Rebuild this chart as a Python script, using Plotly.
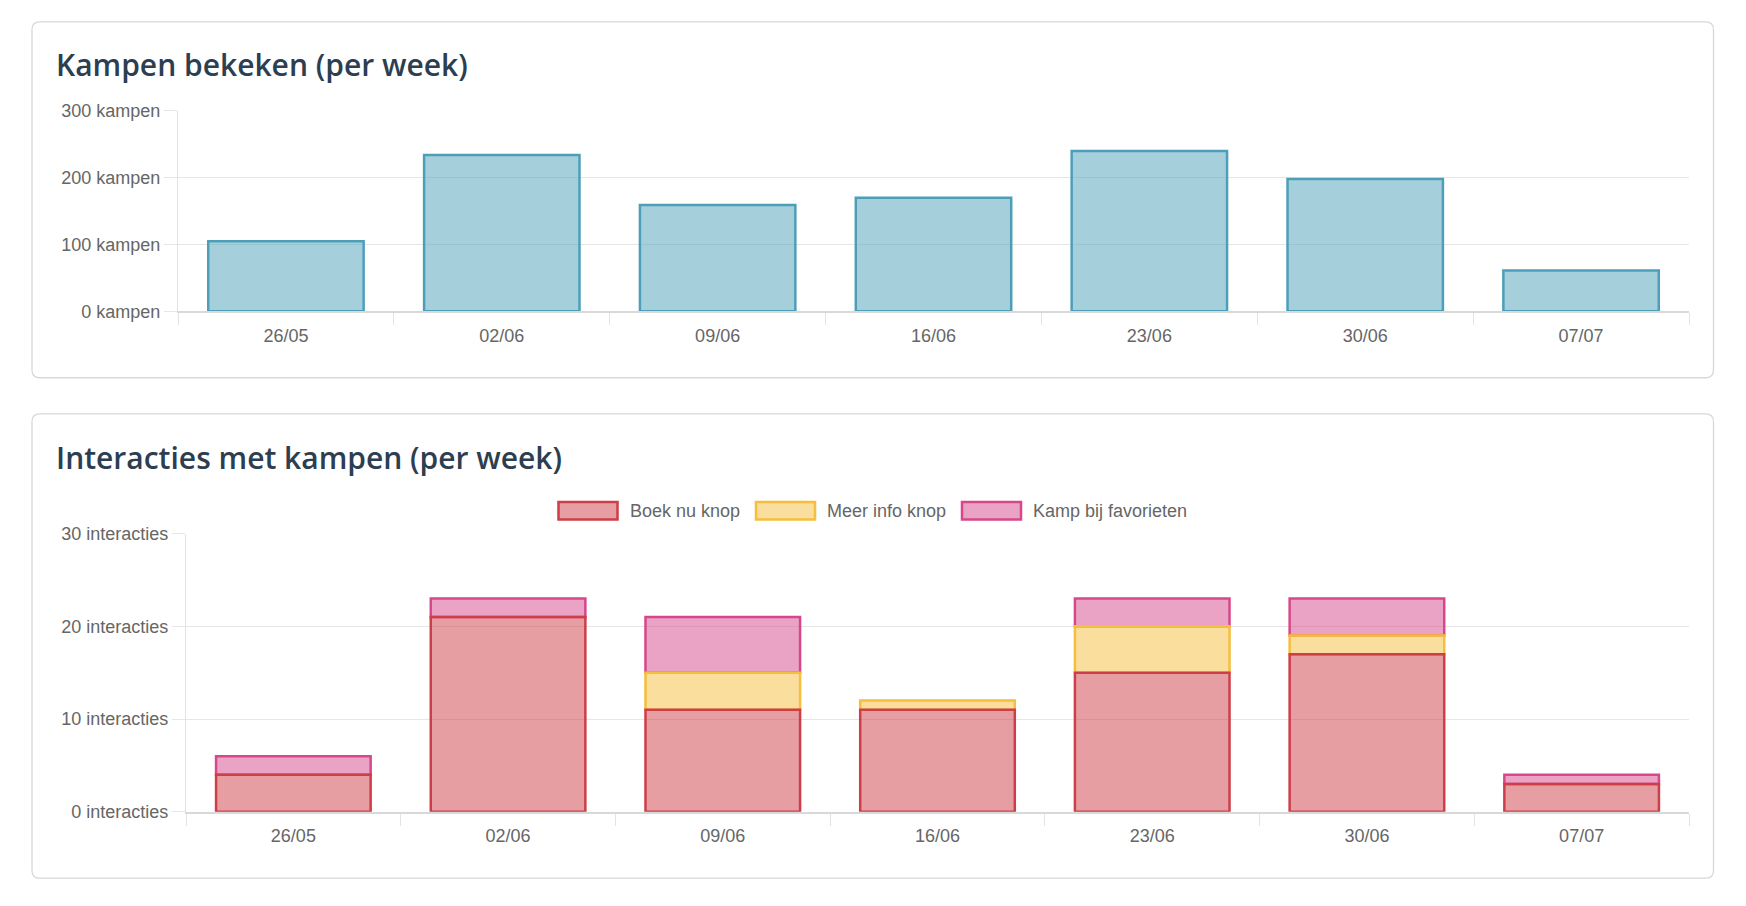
import numpy as np
import plotly.graph_objects as go

# ---------------- data ----------------
weeks = ["26/05", "02/06", "09/06", "16/06", "23/06", "30/06", "07/07"]
kampen_bekeken = [105, 234, 159, 170, 240, 198, 61]
boek_nu_knop = [4, 21, 11, 11, 15, 17, 3]
meer_info_knop = [0, 0, 4, 1, 5, 2, 0]
kamp_bij_favorieten = [2, 2, 6, 0, 3, 4, 1]
y1_tickvals = [0, 100, 200, 300]
y2_tickvals = [0, 10, 20, 30]
y1_suffix = " kampen"
y2_suffix = " interacties"
title1 = "Kampen bekeken (per week)"
title2 = "Interacties met kampen (per week)"
legend_names = ["Boek nu knop", "Meer info knop", "Kamp bij favorieten"]

# ---------------- geometry (page pixels; body keeps its default 8px margin) ----------------
PAGE_W, PAGE_H, M = 1746, 906, 8
W, H = PAGE_W - 2 * M, PAGE_H - 2 * M

def fx(x):
    return (x - M) / W

def fy(y):
    return 1 - (y - M) / H

BLUE = (77, 159, 185)
RED = (205, 62, 72)
YELLOW = (245, 190, 60)
PINK = (214, 72, 138)

def rgba(c, a):
    return "rgba(%d,%d,%d,%s)" % (c[0], c[1], c[2], a)

TICK_FONT = dict(family="Liberation Sans, Arial, sans-serif", size=18, color="#666666")
TITLE_FONT = dict(family="Open Sans, sans-serif", size=30, color="#2c3e50", weight=600)
GRID = "#e6e6e6"
AXIS = "#d9d9d9"

fig = go.Figure()

# chart 1
fig.add_trace(go.Bar(
    x=weeks, y=kampen_bekeken, xaxis="x", yaxis="y",
    marker=dict(color=rgba(BLUE, 0.5), line=dict(color=rgba(BLUE, 1), width=2.5)),
    showlegend=False, hoverinfo="x+y",
))

# chart 2 (stacked via cumulative bases; top series drawn first so lower borders stay visible)
b = np.array(boek_nu_knop, dtype=float)
m = np.array(meer_info_knop, dtype=float)
f = np.array(kamp_bij_favorieten, dtype=float)

def nz(arr):
    return [v if v else None for v in arr]

series = [
    (legend_names[2], f, b + m, PINK),
    (legend_names[1], m, b, YELLOW),
    (legend_names[0], b, np.zeros_like(b), RED),
]
for name, vals, base, col in series:
    fig.add_trace(go.Bar(
        x=weeks, y=nz(vals), base=list(base), name=name, xaxis="x2", yaxis="y2",
        marker=dict(color=rgba(col, 0.5), line=dict(color=rgba(col, 1), width=2.5)),
        showlegend=False, hoverinfo="x+y+name",
    ))

# ---------------- cards ----------------
def card(x0, y0, x1, y1, r=8):
    rx, ry = r / W, r / H
    X0, X1 = fx(x0), fx(x1)
    Y0, Y1 = fy(y0), fy(y1)  # Y0 top, Y1 bottom
    p = (f"M {X0+rx},{Y0} L {X1-rx},{Y0} Q {X1},{Y0} {X1},{Y0-ry} "
         f"L {X1},{Y1+ry} Q {X1},{Y1} {X1-rx},{Y1} L {X0+rx},{Y1} "
         f"Q {X0},{Y1} {X0},{Y1+ry} L {X0},{Y0-ry} Q {X0},{Y0} {X0+rx},{Y0} Z")
    return dict(type="path", xref="paper", yref="paper", path=p,
                line=dict(color="#d8d8d8", width=1.3), fillcolor="rgba(0,0,0,0)", layer="below")

shapes = [card(32, 12, 1713.5, 376), card(32, 413, 1713.5, 888)]

annotations = [
    dict(text=title1, x=fx(54), y=fy(56), xref="paper", yref="paper",
         xanchor="left", yanchor="middle", showarrow=False, font=TITLE_FONT),
    dict(text=title2, x=fx(54), y=fy(457.5), xref="paper", yref="paper",
         xanchor="left", yanchor="middle", showarrow=False, font=TITLE_FONT),
]

# custom legend (wide Chart.js-style boxes)
leg_x = [557.5, 755, 961]
leg_cols = [RED, YELLOW, PINK]
for lx, name, col in zip(leg_x, legend_names, leg_cols):
    shapes.append(dict(type="rect", xref="paper", yref="paper",
                       x0=fx(lx + 1), x1=fx(lx + 60), y0=fy(503), y1=fy(521),
                       fillcolor=rgba(col, 0.5), line=dict(color=rgba(col, 1), width=2.5)))
    annotations.append(dict(text=name, x=fx(lx + 70), y=fy(512), xref="paper", yref="paper",
                            xanchor="left", yanchor="middle", showarrow=False,
                            font=TICK_FONT))

xcommon = dict(type="category", showgrid=False, showline=True, linecolor=AXIS, linewidth=1.5,
               ticks="outside", tickson="boundaries", ticklen=12, tickcolor="#e3e3e3",
               tickwidth=1.3, tickfont=TICK_FONT, fixedrange=True, zeroline=False,
               ticklabelstandoff=7)
ycommon = dict(showgrid=True, gridcolor=GRID, gridwidth=1.3, showline=True, linecolor="#e3e3e3",
               linewidth=1.3, ticks="outside", ticklen=13, tickcolor=GRID, tickwidth=1.3,
               tickfont=TICK_FONT, zeroline=False, fixedrange=True, ticklabelstandoff=0,
               tickmode="array")

fig.update_layout(
    width=W, height=H, margin=dict(l=0, r=0, t=0, b=0),
    paper_bgcolor="white", plot_bgcolor="white",
    barmode="overlay", bargap=0.28,
    showlegend=False,
    xaxis=dict(domain=[fx(178), fx(1689)], anchor="y", **xcommon),
    yaxis=dict(domain=[fy(308), fy(103)], anchor="x", range=[0, 300],
               tickvals=y1_tickvals, ticktext=[f"{v}{y1_suffix}" for v in y1_tickvals],
               **ycommon),
    xaxis2=dict(domain=[fx(186), fx(1689)], anchor="y2", **xcommon),
    yaxis2=dict(domain=[fy(820), fy(535.5)], anchor="x2", range=[0, 30],
                tickvals=y2_tickvals, ticktext=[f"{v}{y2_suffix}" for v in y2_tickvals],
                **ycommon),
    shapes=shapes, annotations=annotations,
)

fig.write_html("out.html", config={"displayModeBar": False})
